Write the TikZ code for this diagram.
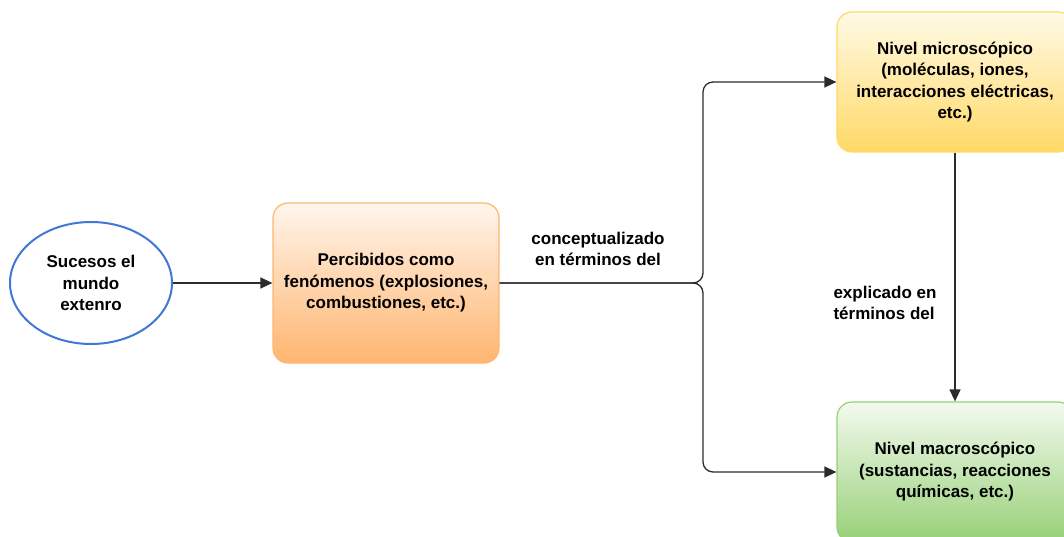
\documentclass[tikz,border=0pt]{standalone}
\usepackage{fontspec}
\setmainfont{Liberation Sans}
\usetikzlibrary{shapes.geometric,arrows.meta}
\definecolor{lineg}{HTML}{2B2B2B}
\definecolor{elblue}{HTML}{4177D6}
\definecolor{orgtop}{HTML}{FFF5EC}
\definecolor{orgbot}{HTML}{FFB570}
\definecolor{yeltop}{HTML}{FFFAE6}
\definecolor{yelbot}{HTML}{FFD966}
\definecolor{grntop}{HTML}{F3FAEF}
\definecolor{grnbot}{HTML}{97D077}
\tikzset{
  txt/.style={font=\fontsize{17}{21.5}\selectfont\bfseries, align=center},
  box/.style={txt, rounded corners=15pt, line width=1.2pt, inner sep=0pt},
  conn/.style={draw=lineg, line width=1.3pt, -{Triangle[length=12pt,width=11pt]}}
}
\begin{document}
\begin{tikzpicture}[line join=round, x=1pt, y=-1pt]
            \useasboundingbox (0,0) rectangle (1064,537);
            \node[txt, ellipse, draw=elblue, line width=2pt, minimum width=162pt, minimum height=122pt, inner sep=0pt] (suc) at (91,283) {Sucesos el\\mundo\\extenro};
            \node[box, draw=orgbot, top color=orgtop, bottom color=orgbot, minimum width=226pt, minimum height=160pt] (perc) at (386,283) {Percibidos como\\fenómenos (explosiones,\\combustiones, etc.)};
            \node[box, draw=yelbot, top color=yeltop, bottom color=yelbot, minimum width=236pt, minimum height=140pt] (micro) at (955,82) {Nivel microscópico\\(moléculas, iones,\\interacciones eléctricas,\\etc.)};
            \node[box, draw=grnbot, top color=grntop, bottom color=grnbot, minimum width=236pt, minimum height=140pt] (macro) at (955,472) {Nivel macroscópico\\(sustancias, reacciones\\químicas, etc.)};
            \coordinate (junc) at (703,283);
            % etiquetas
            \node[txt] (lconc) at (598,249) {conceptualizado\\en términos del};
            \node[txt, align=left] (lexpl) at (885,303) {explicado en\\términos del};
            % conectores
            \draw[conn] (suc) -- (perc);
            \draw[conn, rounded corners=10pt] (perc.east) -- (junc) |- (micro.west);
            \draw[conn, rounded corners=10pt] (perc.east) -- (junc) |- (macro.west);
            \draw[conn] (micro) -- (macro);
        \end{tikzpicture}
\end{document}
